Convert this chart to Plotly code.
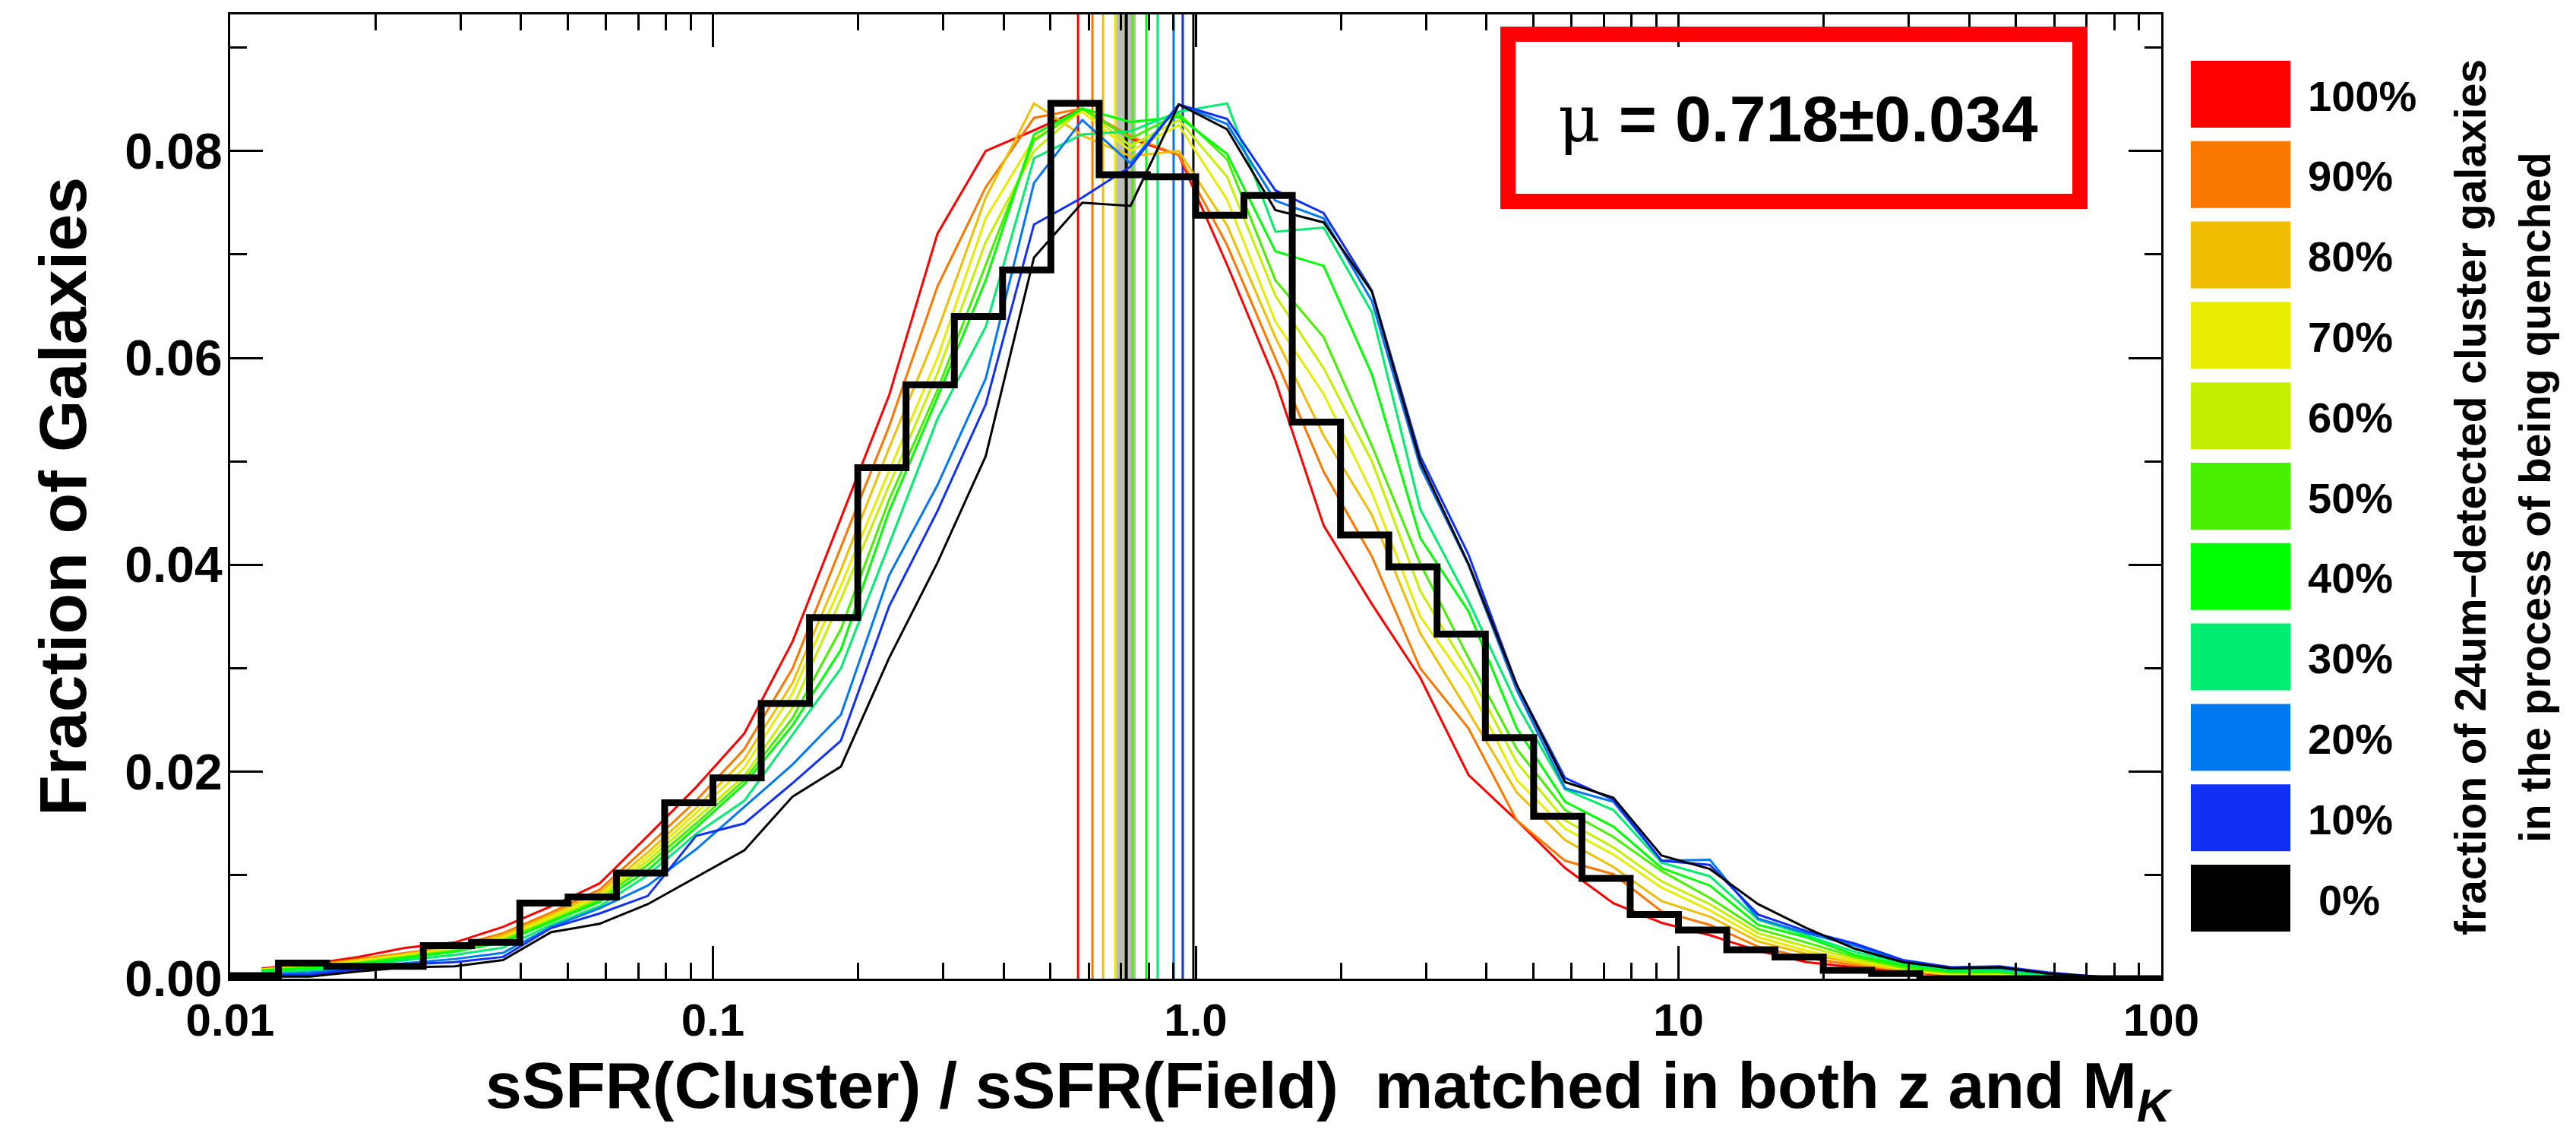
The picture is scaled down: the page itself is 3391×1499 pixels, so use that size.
import plotly.graph_objects as go

# ---------------- data ----------------
# histogram bin edges in log10(sSFR ratio): -2.0 .. 2.0 step 0.1
hist_log_edges = [-2.0 + 0.1 * i for i in range(41)]
hist_values = [0.0003, 0.0015, 0.0012, 0.0012, 0.0032, 0.0035, 0.0073, 0.0079, 0.0102, 0.0170,
               0.0194, 0.0266, 0.0349, 0.0494, 0.0574, 0.0640, 0.0685, 0.0846, 0.0777, 0.0775,
               0.0738, 0.0757, 0.0538, 0.0429, 0.0398, 0.0333, 0.0233, 0.0157, 0.0097, 0.0062,
               0.0047, 0.0028, 0.0021, 0.0008, 0.0005, 0.0, 0.0, 0.0, 0.0, 0.0]

# model curves sampled at log10 x = -1.935 + 0.1 k
curve_log_x = [-1.935 + 0.1 * k for k in range(40)]

c100 = [0.0010, 0.0014, 0.0021, 0.0030, 0.0035, 0.0050, 0.0070, 0.0092, 0.0138, 0.0185,
        0.0237, 0.0326, 0.0445, 0.0564, 0.0720, 0.0800, 0.0820, 0.0841, 0.0812, 0.0796,
        0.0690, 0.0578, 0.0438, 0.0362, 0.0291, 0.0197, 0.0153, 0.0107, 0.0073, 0.0054,
        0.0042, 0.0027, 0.0016, 0.0011, 0.0007, 0.0003, 0.0002, 0.0001, 0.0, 0.0]
c90 = [0.0009, 0.0013, 0.0019, 0.0025, 0.0031, 0.0044, 0.0064, 0.0086, 0.0128, 0.0172,
       0.0222, 0.0300, 0.0417, 0.0534, 0.0669, 0.0765, 0.0832, 0.0841, 0.0814, 0.0796,
       0.0709, 0.0600, 0.0490, 0.0408, 0.0300, 0.0242, 0.0153, 0.0114, 0.0101, 0.0065,
       0.0052, 0.0031, 0.0020, 0.0013, 0.0008, 0.0003, 0.0003, 0.0001, 0.0, 0.0]
c80 = [0.0009, 0.0012, 0.0018, 0.0024, 0.0030, 0.0042, 0.0062, 0.0083, 0.0122, 0.0165,
       0.0212, 0.0286, 0.0395, 0.0513, 0.0626, 0.0755, 0.0846, 0.0815, 0.0795, 0.0800,
       0.0728, 0.0620, 0.0525, 0.0448, 0.0334, 0.0258, 0.0180, 0.0134, 0.0108, 0.0075,
       0.0060, 0.0036, 0.0024, 0.0015, 0.0008, 0.0004, 0.0003, 0.0001, 0.0, 0.0]
c70 = [0.0009, 0.0012, 0.0017, 0.0023, 0.0029, 0.0040, 0.0060, 0.0080, 0.0118, 0.0160,
       0.0204, 0.0276, 0.0380, 0.0491, 0.0600, 0.0735, 0.0812, 0.0838, 0.0800, 0.0825,
       0.0753, 0.0635, 0.0565, 0.0470, 0.0350, 0.0284, 0.0192, 0.0145, 0.0120, 0.0088,
       0.0066, 0.0040, 0.0027, 0.0017, 0.0009, 0.0004, 0.0004, 0.0001, 0.0, 0.0]
c60 = [0.0008, 0.0011, 0.0016, 0.0022, 0.0028, 0.0038, 0.0058, 0.0078, 0.0114, 0.0155,
       0.0196, 0.0262, 0.0367, 0.0477, 0.0585, 0.0712, 0.0800, 0.0841, 0.0805, 0.0830,
       0.0775, 0.0660, 0.0590, 0.0500, 0.0375, 0.0297, 0.0209, 0.0153, 0.0127, 0.0094,
       0.0072, 0.0044, 0.0031, 0.0019, 0.0010, 0.0005, 0.0005, 0.0002, 0.0, 0.0]
c50 = [0.0008, 0.0011, 0.0015, 0.0021, 0.0027, 0.0037, 0.0056, 0.0076, 0.0110, 0.0150,
       0.0192, 0.0252, 0.0338, 0.0463, 0.0569, 0.0690, 0.0810, 0.0841, 0.0812, 0.0836,
       0.0792, 0.0675, 0.0620, 0.0515, 0.0401, 0.0310, 0.0222, 0.0163, 0.0137, 0.0104,
       0.0078, 0.0048, 0.0035, 0.0021, 0.0011, 0.0006, 0.0006, 0.0002, 0.0001, 0.0]
c40 = [0.0008, 0.0010, 0.0014, 0.0020, 0.0026, 0.0035, 0.0055, 0.0074, 0.0105, 0.0146,
       0.0188, 0.0245, 0.0318, 0.0452, 0.0562, 0.0675, 0.0816, 0.0841, 0.0828, 0.0833,
       0.0797, 0.0703, 0.0689, 0.0584, 0.0426, 0.0355, 0.0242, 0.0171, 0.0147, 0.0107,
       0.0090, 0.0052, 0.0040, 0.0023, 0.0013, 0.0007, 0.0007, 0.0003, 0.0001, 0.0]
c30 = [0.0006, 0.0008, 0.0012, 0.0018, 0.0023, 0.0030, 0.0052, 0.0070, 0.0100, 0.0140,
       0.0172, 0.0236, 0.0300, 0.0420, 0.0541, 0.0630, 0.0793, 0.0816, 0.0819, 0.0838,
       0.0846, 0.0722, 0.0726, 0.0644, 0.0454, 0.0365, 0.0265, 0.0183, 0.0163, 0.0112,
       0.0099, 0.0057, 0.0042, 0.0026, 0.0015, 0.0008, 0.0008, 0.0003, 0.0001, 0.0]
c20 = [0.0004, 0.0006, 0.0010, 0.0015, 0.0019, 0.0025, 0.0050, 0.0068, 0.0090, 0.0125,
       0.0166, 0.0207, 0.0255, 0.0390, 0.0477, 0.0580, 0.0769, 0.0830, 0.0788, 0.0845,
       0.0826, 0.0752, 0.0735, 0.0655, 0.0495, 0.0400, 0.0279, 0.0184, 0.0171, 0.0114,
       0.0115, 0.0058, 0.0044, 0.0032, 0.0017, 0.0010, 0.0010, 0.0005, 0.0002, 0.0]
c10 = [0.0003, 0.0004, 0.0009, 0.0014, 0.0016, 0.0021, 0.0049, 0.0063, 0.0080, 0.0138,
       0.0150, 0.0189, 0.0230, 0.0360, 0.0452, 0.0555, 0.0729, 0.0755, 0.0785, 0.0845,
       0.0831, 0.0762, 0.0740, 0.0665, 0.0505, 0.0410, 0.0284, 0.0194, 0.0173, 0.0114,
       0.0110, 0.0062, 0.0046, 0.0034, 0.0018, 0.0011, 0.0012, 0.0006, 0.0002, 0.0]
c0 = [0.0002, 0.0002, 0.0007, 0.0011, 0.0012, 0.0018, 0.0045, 0.0053, 0.0072, 0.0098,
      0.0124, 0.0176, 0.0205, 0.0310, 0.0402, 0.0505, 0.0697, 0.0750, 0.0747, 0.0845,
      0.0821, 0.0743, 0.0731, 0.0664, 0.0500, 0.0401, 0.0284, 0.0190, 0.0175, 0.0119,
      0.0106, 0.0072, 0.0049, 0.0029, 0.0016, 0.0010, 0.0011, 0.0005, 0.0002, 0.0]

curve_names = ["100%", "90%", "80%", "70%", "60%", "50%", "40%", "30%", "20%", "10%", "0%"]
curve_values = [c100, c90, c80, c70, c60, c50, c40, c30, c20, c10, c0]
curve_colors = ["#ff0000", "#fa7800", "#f0be00", "#e8ec00", "#c4f000", "#48f000",
                "#00ff00", "#00ee70", "#0078f0", "#1030f5", "#000000"]
# median of each model distribution (vertical lines)
curve_medians = [0.5705, 0.611, 0.643, 0.681, 0.716, 0.740, 0.790, 0.834, 0.900, 0.940, 0.989]

mu_value = 0.718
mu_error = 0.034

x_tick_vals = [0.01, 0.1, 1.0, 10, 100]
x_tick_text = ["0.01", "0.1", "1.0", "10", "100"]
y_tick_vals = [0.0, 0.02, 0.04, 0.06, 0.08]
y_tick_text = ["0.00", "0.02", "0.04", "0.06", "0.08"]
y_minor_vals = [0.01, 0.03, 0.05, 0.07, 0.09]

x_title = "sSFR(Cluster) / sSFR(Field)  matched in both z and M<sub><i>K</i></sub>"
y_title = "Fraction of Galaxies"
side_title_1 = "fraction of 24um\u2013detected cluster galaxies"
side_title_2 = "in the process of being quenched"

# ---------------- geometry helpers (pixel -> paper) ----------------
W, H = 3391, 1499
PL, PR, PT, PB = 303, 2845, 19, 1288


def px(xp):
    return (xp - PL) / (PR - PL)


def py(yp):
    return (PB - yp) / (PB - PT)


FONT = "Liberation Sans"

fig = go.Figure()

# model curves
curve_x = [10 ** v for v in curve_log_x]
for name, vals, col in zip(curve_names, curve_values, curve_colors):
    fig.add_trace(go.Scatter(x=curve_x, y=vals, mode="lines", name=name,
                             line=dict(color=col, width=3), showlegend=False,
                             hoverinfo="skip"))

# observed histogram (step)
hist_x = [10 ** v for v in hist_log_edges]
hist_y = hist_values + [hist_values[-1]]
fig.add_trace(go.Scatter(x=hist_x, y=hist_y, mode="lines", line_shape="hv",
                         line=dict(color="black", width=9), showlegend=False,
                         name="observed"))

shapes = []
# gray error band on mu
shapes.append(dict(type="rect", xref="x", yref="paper", x0=mu_value - mu_error,
                   x1=mu_value + mu_error, y0=0, y1=1, fillcolor="#bdbdbd",
                   line=dict(width=0), layer="below"))
# median lines
for med, col in zip(curve_medians, curve_colors):
    shapes.append(dict(type="line", xref="x", yref="paper", x0=med, x1=med, y0=0, y1=1,
                       line=dict(color=col, width=3), layer="below"))
# mu line
shapes.append(dict(type="line", xref="x", yref="paper", x0=mu_value, x1=mu_value, y0=0, y1=1,
                   line=dict(color="black", width=4), layer="below"))

# red box around mu
shapes.append(dict(type="rect", xref="paper", yref="paper", x0=px(1985), x1=px(2738),
                   y0=py(265), y1=py(45), line=dict(color="#ff0000", width=20),
                   fillcolor="rgba(0,0,0,0)"))

annotations = []
annotations.append(dict(
    xref="paper", yref="paper", x=px(2367), y=py(156), xanchor="center", yanchor="middle",
    showarrow=False,
    text=("<span style='font-family:DejaVu Serif;font-weight:normal'>\u03bc</span>"
          "<b> = %.3f\u00b1%.3f</b>" % (mu_value, mu_error)),
    font=dict(family=FONT, size=86, color="black")))

# custom legend (colour boxes + labels)
for i, (name, col) in enumerate(zip(curve_names, curve_colors)):
    top = 80 + 105.8 * i
    shapes.append(dict(type="rect", xref="paper", yref="paper", x0=px(2884), x1=px(3015),
                       y0=py(top + 88), y1=py(top), fillcolor=col, line=dict(width=0)))
    annotations.append(dict(xref="paper", yref="paper",
                            x=px(3036 if name != "0%" else 3050), y=py(top + 46),
                            xanchor="left", yanchor="middle", showarrow=False,
                            text="<b>%s</b>" % name,
                            font=dict(family=FONT, size=56, color="black")))

annotations.append(dict(xref="paper", yref="paper", x=px(3252), y=py(655), textangle=-90,
                        xanchor="center", yanchor="middle", showarrow=False,
                        text="<b>%s</b>" % side_title_1,
                        font=dict(family=FONT, size=57, color="black")))
annotations.append(dict(xref="paper", yref="paper", x=px(3337), y=py(655), textangle=-90,
                        xanchor="center", yanchor="middle", showarrow=False,
                        text="<b>%s</b>" % side_title_2,
                        font=dict(family=FONT, size=57, color="black")))

# x-axis title (offset to the right of the axis centre, as in the original)
annotations.append(dict(xref="paper", yref="paper", x=px(1750), y=py(1434),
                        xanchor="center", yanchor="middle", showarrow=False,
                        text="<b>%s</b>" % x_title,
                        font=dict(family=FONT, size=86, color="black")))

x_minor = [m * 10 ** d for d in range(-2, 2) for m in range(2, 10)]

fig.update_layout(
    width=W, height=H,
    margin=dict(l=PL, r=W - PR, t=PT, b=H - PB, pad=0),
    paper_bgcolor="white", plot_bgcolor="white",
    shapes=shapes, annotations=annotations,
    xaxis=dict(type="log", range=[-2, 2], showline=True, linecolor="black", linewidth=3,
               mirror="ticks", ticks="inside", ticklen=43, tickwidth=3, tickcolor="black",
               tickvals=x_tick_vals, ticktext=x_tick_text, showgrid=False, zeroline=False,
               tickfont=dict(family=FONT, size=60, color="black", weight="bold"),
               ticklabelstandoff=0,
               minor=dict(tickvals=x_minor, ticks="inside", ticklen=21, tickwidth=3,
                          tickcolor="black", showgrid=False)),
    yaxis=dict(range=[0, 0.0932], showline=True, linecolor="black", linewidth=3,
               mirror="ticks", ticks="inside", ticklen=43, tickwidth=3, tickcolor="black",
               tickvals=y_tick_vals, ticktext=y_tick_text, showgrid=False, zeroline=False,
               tickfont=dict(family=FONT, size=66, color="black", weight="bold"),
               ticklabelstandoff=-6,
               minor=dict(tickvals=y_minor_vals, ticks="inside", ticklen=22, tickwidth=3,
                          tickcolor="black", showgrid=False),
               title=dict(text="<b>%s</b>" % y_title,
                          font=dict(family=FONT, size=88, color="black"), standoff=22)),
)

fig.write_html("out.html")
